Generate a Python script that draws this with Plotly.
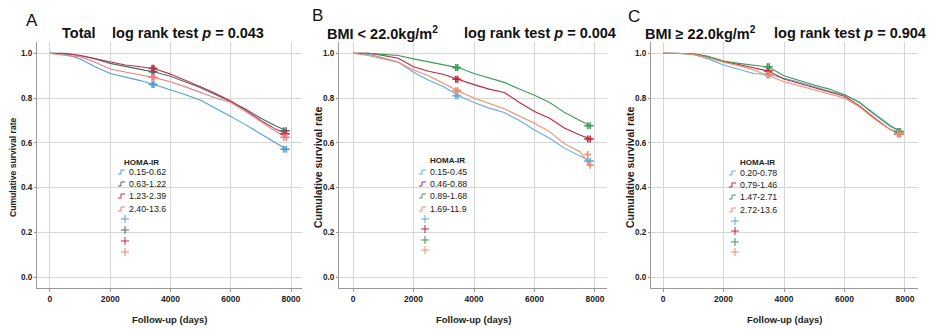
import plotly.graph_objects as go

W, H = 934, 329

# ---------------- data ----------------
days = [0, 500, 1000, 1500, 2000, 2500, 3000, 3500, 4000, 4500, 5000, 5500, 6000, 6500, 7000, 7500, 7850]

# Panel A: Total
A_groups = ["0.15-0.62", "0.63-1.22", "1.23-2.39", "2.40-13.6"]
A_g1 = [1.0, 0.997, 0.975, 0.94, 0.91, 0.895, 0.878, 0.858, 0.838, 0.815, 0.79, 0.755, 0.718, 0.68, 0.64, 0.60, 0.571]
A_g2 = [1.0, 1.0, 0.99, 0.975, 0.955, 0.94, 0.928, 0.915, 0.897, 0.872, 0.846, 0.815, 0.785, 0.75, 0.71, 0.675, 0.654]
A_g3 = [1.0, 0.998, 0.99, 0.975, 0.96, 0.948, 0.94, 0.93, 0.907, 0.88, 0.85, 0.82, 0.787, 0.745, 0.70, 0.66, 0.64]
A_g4 = [1.0, 0.99, 0.985, 0.96, 0.93, 0.915, 0.903, 0.89, 0.873, 0.85, 0.825, 0.80, 0.78, 0.74, 0.695, 0.65, 0.625]
A_cens_t = [3390, 3450, 7760, 7840]
A_c1 = [0.861, 0.861, 0.571, 0.571]
A_c2 = [0.918, 0.918, 0.654, 0.654]
A_c3 = [0.933, 0.933, 0.640, 0.640]
A_c4 = [0.893, 0.893, 0.625, 0.625]

# Panel B: BMI < 22.0
B_groups = ["0.15-0.45", "0.46-0.88", "0.89-1.68", "1.69-11.9"]
B_g1 = [1.0, 0.995, 0.98, 0.96, 0.915, 0.88, 0.85, 0.81, 0.78, 0.755, 0.735, 0.70, 0.657, 0.62, 0.575, 0.54, 0.518]
B_g2 = [1.0, 1.0, 0.99, 0.978, 0.94, 0.92, 0.905, 0.882, 0.86, 0.84, 0.825, 0.78, 0.74, 0.71, 0.665, 0.635, 0.617]
B_g3 = [1.0, 1.0, 0.995, 0.99, 0.975, 0.962, 0.95, 0.935, 0.91, 0.89, 0.87, 0.84, 0.812, 0.78, 0.735, 0.70, 0.676]
B_g4 = [1.0, 0.99, 0.975, 0.96, 0.925, 0.90, 0.865, 0.83, 0.80, 0.775, 0.752, 0.72, 0.687, 0.65, 0.595, 0.56, 0.50]
B_cens_t = [3400, 3460, 7760, 7840]
B_c1 = [0.810, 0.810, 0.518, 0.518]
B_c2 = [0.884, 0.884, 0.617, 0.617]
B_c3 = [0.936, 0.936, 0.676, 0.676]
B_c4 = [0.833, 0.833, 0.548, 0.500]

# Panel C: BMI >= 22.0
C_groups = ["0.20-0.78", "0.79-1.46", "1.47-2.71", "2.72-13.6"]
C_g1 = [1.0, 1.0, 0.995, 0.975, 0.948, 0.93, 0.91, 0.905, 0.89, 0.872, 0.852, 0.83, 0.815, 0.78, 0.73, 0.68, 0.65]
C_g2 = [1.0, 1.0, 0.998, 0.985, 0.963, 0.95, 0.935, 0.92, 0.885, 0.865, 0.845, 0.825, 0.808, 0.765, 0.71, 0.66, 0.64]
C_g3 = [1.0, 1.0, 0.998, 0.985, 0.965, 0.955, 0.945, 0.938, 0.90, 0.878, 0.858, 0.84, 0.815, 0.78, 0.725, 0.675, 0.65]
C_g4 = [1.0, 1.0, 0.995, 0.98, 0.96, 0.945, 0.925, 0.90, 0.873, 0.855, 0.838, 0.818, 0.80, 0.76, 0.705, 0.66, 0.64]
C_cens_t = [3450, 3510, 7760, 7840]
C_c1 = [0.905, 0.905, 0.650, 0.650]
C_c2 = [0.921, 0.921, 0.640, 0.640]
C_c3 = [0.940, 0.940, 0.650, 0.650]
C_c4 = [0.903, 0.903, 0.640, 0.640]

x_ticks = [0, 2000, 4000, 6000, 8000]
y_ticks = [0.0, 0.2, 0.4, 0.6, 0.8, 1.0]

A_colors = ["#4f9fd6", "#4a6a6a", "#b8344c", "#ec7e7e"]
BC_colors = ["#62aee0", "#c42440", "#3f9a55", "#f28c66"]

# ---------------- layout helpers ----------------
def fx(x):
    return x / W

def fy(y):
    return 1 - y / H

SANS = "Liberation Sans, Arial, sans-serif"

panels = [
    dict(key="", x0=37, x1=302, xr=[-431, 8365], groups=A_groups, colors=A_colors,
         series=[A_g1, A_g2, A_g3, A_g4], ct=A_cens_t, cs=[A_c1, A_c2, A_c3, A_c4],
         letter="A", lx=32, ly=21, t1="Total", t1x=60, t2="log rank test <i>p</i> = 0.043", t2x=110,
         ylx=13, ylsize=8.6, leg_title_x=141, leg_title_y=162, gx=118, entry_y=[172, 184, 196, 209],
         plus_x=125, plus_y=[219, 230, 241, 252]),
    dict(key="2", x0=339, x1=607, xr=[-463, 8397], groups=B_groups, colors=BC_colors,
         series=[B_g1, B_g2, B_g3, B_g4], ct=B_cens_t, cs=[B_c1, B_c2, B_c3, B_c4],
         letter="B", lx=317, ly=15, t1="BMI &lt; 22.0kg/m<sup>2</sup>", t1x=325, t2="log rank test <i>p</i> = 0.004", t2x=462,
         ylx=318, ylsize=10.5, leg_title_x=447, leg_title_y=161, gx=419, entry_y=[172, 184, 196, 209],
         plus_x=425, plus_y=[219, 229, 240, 250]),
    dict(key="3", x0=651, x1=918, xr=[-397, 8430], groups=C_groups, colors=BC_colors,
         series=[C_g1, C_g2, C_g3, C_g4], ct=C_cens_t, cs=[C_c1, C_c2, C_c3, C_c4],
         letter="C", lx=634, ly=16, t1="BMI ≥ 22.0kg/m<sup>2</sup>", t1x=643, t2="log rank test <i>p</i> = 0.904", t2x=772,
         ylx=630, ylsize=10.5, leg_title_x=757, leg_title_y=162, gx=729, entry_y=[173, 185, 197, 210],
         plus_x=735, plus_y=[221, 231, 242, 252]),
]

Y_TOP, Y_BOT = 42, 288
y_range = [-0.049, 1.0505]

fig = go.Figure()
annotations = []
shapes = []
layout = {}

for p in panels:
    xa = "x" + p["key"]
    ya = "y" + p["key"]
    for name, col, s in zip(p["groups"], p["colors"], p["series"]):
        fig.add_trace(go.Scatter(x=days, y=s, mode="lines", name=name,
                                 line=dict(color=col, width=1.1), xaxis=xa, yaxis=ya,
                                 showlegend=False, hoverinfo="skip"))
    for col, cv in zip(p["colors"], p["cs"]):
        fig.add_trace(go.Scatter(x=p["ct"], y=cv, mode="markers",
                                 marker=dict(symbol="cross-thin", size=5,
                                             line=dict(color=col, width=1.6)),
                                 xaxis=xa, yaxis=ya, showlegend=False, hoverinfo="skip"))

    layout["xaxis" + p["key"]] = dict(
        domain=[fx(p["x0"]), fx(p["x1"])], range=p["xr"], anchor=ya,
        tickvals=x_ticks, tickformat="d", showgrid=True, gridcolor="#d6d6d6", gridwidth=1,
        zeroline=False, showline=True, linecolor="#9a9a9a", linewidth=1,
        ticks="outside", ticklen=3, tickcolor="#9a9a9a",
        tickfont=dict(family=SANS, size=8.5, color="#222", weight="bold"),
    )
    layout["yaxis" + p["key"]] = dict(
        domain=[fy(Y_BOT), fy(Y_TOP)], range=y_range, anchor=xa,
        tickvals=y_ticks, tickformat=".1f", showgrid=True, gridcolor="#d6d6d6", gridwidth=1,
        zeroline=False, showline=True, linecolor="#9a9a9a", linewidth=1,
        ticks="outside", ticklen=2, tickcolor="#9a9a9a",
        tickfont=dict(family=SANS, size=8.2, color="#222", weight="bold"),
    )

    # panel letter and titles
    annotations.append(dict(text=p["letter"], x=fx(p["lx"]), y=fy(p["ly"]), xref="paper", yref="paper",
                            showarrow=False, xanchor="center", yanchor="middle",
                            font=dict(family=SANS, size=17, color="#111")))
    annotations.append(dict(text="<b>" + p["t1"] + "</b>", x=fx(p["t1x"]), y=fy(33), xref="paper", yref="paper",
                            showarrow=False, xanchor="left", yanchor="middle",
                            font=dict(family=SANS, size=14.5, color="#111")))
    annotations.append(dict(text="<b>" + p["t2"] + "</b>", x=fx(p["t2x"]), y=fy(33), xref="paper", yref="paper",
                            showarrow=False, xanchor="left", yanchor="middle",
                            font=dict(family=SANS, size=14.5, color="#111")))
    # axis titles
    annotations.append(dict(text="<b>Follow-up (days)</b>", x=fx((p["x0"] + p["x1"]) / 2), y=fy(319),
                            xref="paper", yref="paper", showarrow=False, xanchor="center", yanchor="middle",
                            font=dict(family=SANS, size=9.5, color="#222")))
    annotations.append(dict(text="<b>Cumulative survival rate</b>", x=fx(p["ylx"]), y=fy(167),
                            xref="paper", yref="paper", showarrow=False, xanchor="center", yanchor="middle",
                            textangle=-90, font=dict(family=SANS, size=p["ylsize"], color="#222")))
    # legend
    annotations.append(dict(text="<b>HOMA-IR</b>", x=fx(p["leg_title_x"]), y=fy(p["leg_title_y"]),
                            xref="paper", yref="paper", showarrow=False, xanchor="center", yanchor="middle",
                            font=dict(family=SANS, size=8, color="#222")))
    gx = p["gx"]
    for name, col, ey in zip(p["groups"], p["colors"], p["entry_y"]):
        path = "M {:.5f} {:.5f} L {:.5f} {:.5f} L {:.5f} {:.5f} L {:.5f} {:.5f}".format(
            fx(gx), fy(ey + 2), fx(gx + 3), fy(ey + 2), fx(gx + 3), fy(ey - 2), fx(gx + 7), fy(ey - 2))
        shapes.append(dict(type="path", path=path, xref="paper", yref="paper",
                           line=dict(color=col, width=1)))
        annotations.append(dict(text=name, x=fx(gx + 9), y=fy(ey), xref="paper", yref="paper",
                                showarrow=False, xanchor="left", yanchor="middle",
                                font=dict(family=SANS, size=8.8, color="#1a1a1a")))
    for col, pyy in zip(p["colors"], p["plus_y"]):
        cx = p["plus_x"]
        path = "M {:.5f} {:.5f} L {:.5f} {:.5f} M {:.5f} {:.5f} L {:.5f} {:.5f}".format(
            fx(cx - 4), fy(pyy), fx(cx + 4), fy(pyy), fx(cx), fy(pyy - 4), fx(cx), fy(pyy + 4))
        shapes.append(dict(type="path", path=path, xref="paper", yref="paper",
                           line=dict(color=col, width=1)))

fig.update_layout(
    width=W, height=H, margin=dict(l=0, r=0, t=0, b=0),
    paper_bgcolor="white", plot_bgcolor="white", showlegend=False,
    annotations=annotations, shapes=shapes, **layout,
)

fig.write_html("out.html", config={"displayModeBar": False},
               post_script="document.body.style.margin='0px';document.body.style.overflow='hidden';")
